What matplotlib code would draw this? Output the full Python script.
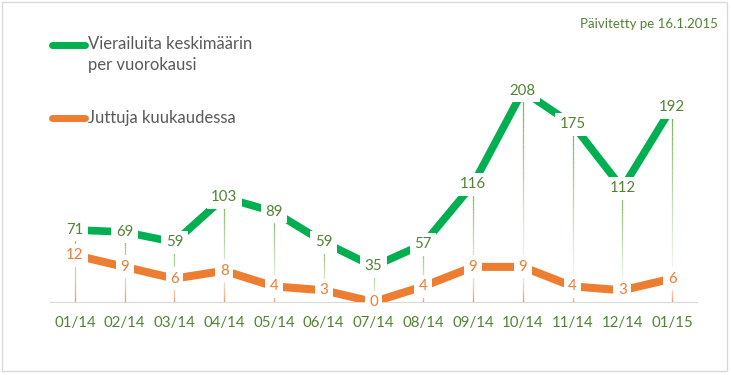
import matplotlib
matplotlib.use("Agg")
import matplotlib.pyplot as plt
import numpy as np
from matplotlib.collections import LineCollection
from matplotlib.lines import Line2D
from matplotlib.patches import Rectangle

months = ["01/14", "02/14", "03/14", "04/14", "05/14", "06/14", "07/14",
          "08/14", "09/14", "10/14", "11/14", "12/14", "01/15"]
visits = [71, 69, 59, 103, 89, 59, 35, 57, 116, 208, 175, 112, 192]
stories = [12, 9, 6, 8, 4, 3, 0, 4, 9, 9, 4, 3, 6]

visits_label = "Vierailuita keskimäärin\nper vuorokausi"
stories_label = "Juttuja kuukaudessa"
updated_text = "Päivitetty pe 16.1.2015"

GREEN = "#00B050"
GREEN_TXT = "#548235"
GREEN_DROP = "#70AD47"
ORANGE = "#ED7D31"
GRAY_TXT = "#595959"
FONT = "Lato"

W, H = 731, 375
fig = plt.figure(figsize=(W / 100, H / 100), dpi=100)
fig.patch.set_facecolor("white")

def fx(px):
    return px / W

def fy(py):
    return 1 - py / H

left, right, top, bottom = 50, 697, 62, 302
ax = fig.add_axes([fx(left), fy(bottom), (right - left) / W, (bottom - top) / H])
ax2 = ax.twinx()
x = np.arange(len(months))

ax.set_xlim(-0.5, len(months) - 0.5)
ax.set_ylim(0, 236.5)
ax2.set_ylim(0, 61.5)

for a in (ax, ax2):
    for s in ("top", "right", "left"):
        a.spines[s].set_visible(False)
    a.set_yticks([])
    a.patch.set_visible(False)
ax.spines["bottom"].set_color("#D9D9D9")
ax.spines["bottom"].set_linewidth(0.8)
ax2.spines["bottom"].set_visible(False)

ax.set_xticks(x)
ax.set_xticklabels(months, fontfamily=FONT, fontsize=10.8, color=GREEN_TXT)
ax.tick_params(axis="x", length=0, pad=10)


def drop_lines(axis, xs, ys, color, fade_down):
    segs, cols = [], []
    rgb = matplotlib.colors.to_rgb(color)
    n = 40
    for xi, yi in zip(xs, ys):
        if yi <= 0:
            continue
        edges = np.linspace(yi, 0, n + 1)
        for k in range(n):
            segs.append([(xi, edges[k]), (xi, edges[k + 1])])
            t = (k + 0.5) / n
            alpha = (1 - t) ** 1.3 if fade_down else t ** 1.6
            cols.append((*rgb, alpha))
    lc = LineCollection(segs, colors=cols, linewidths=0.9, zorder=1)
    axis.add_collection(lc)


drop_lines(ax, x, visits, GREEN_DROP, True)
drop_lines(ax2, x, stories, ORANGE, False)

ax.plot(x, visits, color=GREEN, lw=5.5, solid_capstyle="butt",
        solid_joinstyle="miter", zorder=2)
ax2.plot(x, stories, color=ORANGE, lw=5.8, solid_capstyle="butt",
         solid_joinstyle="miter", zorder=2)

for xi, v in zip(x, visits):
    ax.text(xi, v, str(v), ha="center", va="center", fontfamily=FONT,
            fontsize=10.8, color=GREEN_TXT, zorder=5,
            bbox=dict(boxstyle="square,pad=0.3", fc="white", ec="none"))
for xi, v in zip(x, stories):
    ax2.text(xi, v, str(v), ha="center", va="center", fontfamily=FONT,
             fontsize=10.8, color=ORANGE, zorder=5,
             bbox=dict(boxstyle="square,pad=0.3", fc="white", ec="none"))

# legend (manual)
fig.add_artist(Line2D([fx(52), fx(85)], [fy(45), fy(45)], color=GREEN, lw=5,
                      solid_capstyle="round", transform=fig.transFigure))
fig.add_artist(Line2D([fx(52), fx(85)], [fy(118), fy(118)], color=ORANGE, lw=5,
                      solid_capstyle="round", transform=fig.transFigure))
fig.text(fx(88), fy(36), visits_label, ha="left", va="top", fontfamily=FONT,
         fontsize=12, color=GRAY_TXT, linespacing=1.35)
fig.text(fx(88), fy(118), stories_label, ha="left", va="center", fontfamily=FONT,
         fontsize=12, color=GRAY_TXT)

fig.text(fx(718), fy(24), updated_text, ha="right", va="center", fontfamily=FONT,
         fontsize=9.5, color=GREEN_TXT)

fig.add_artist(Rectangle((fx(2), fy(371)), fx(725), (369) / H, fill=False,
                         ec="#D9D9D9", lw=1, transform=fig.transFigure))

fig.savefig("out.png", dpi=100, facecolor="white")
